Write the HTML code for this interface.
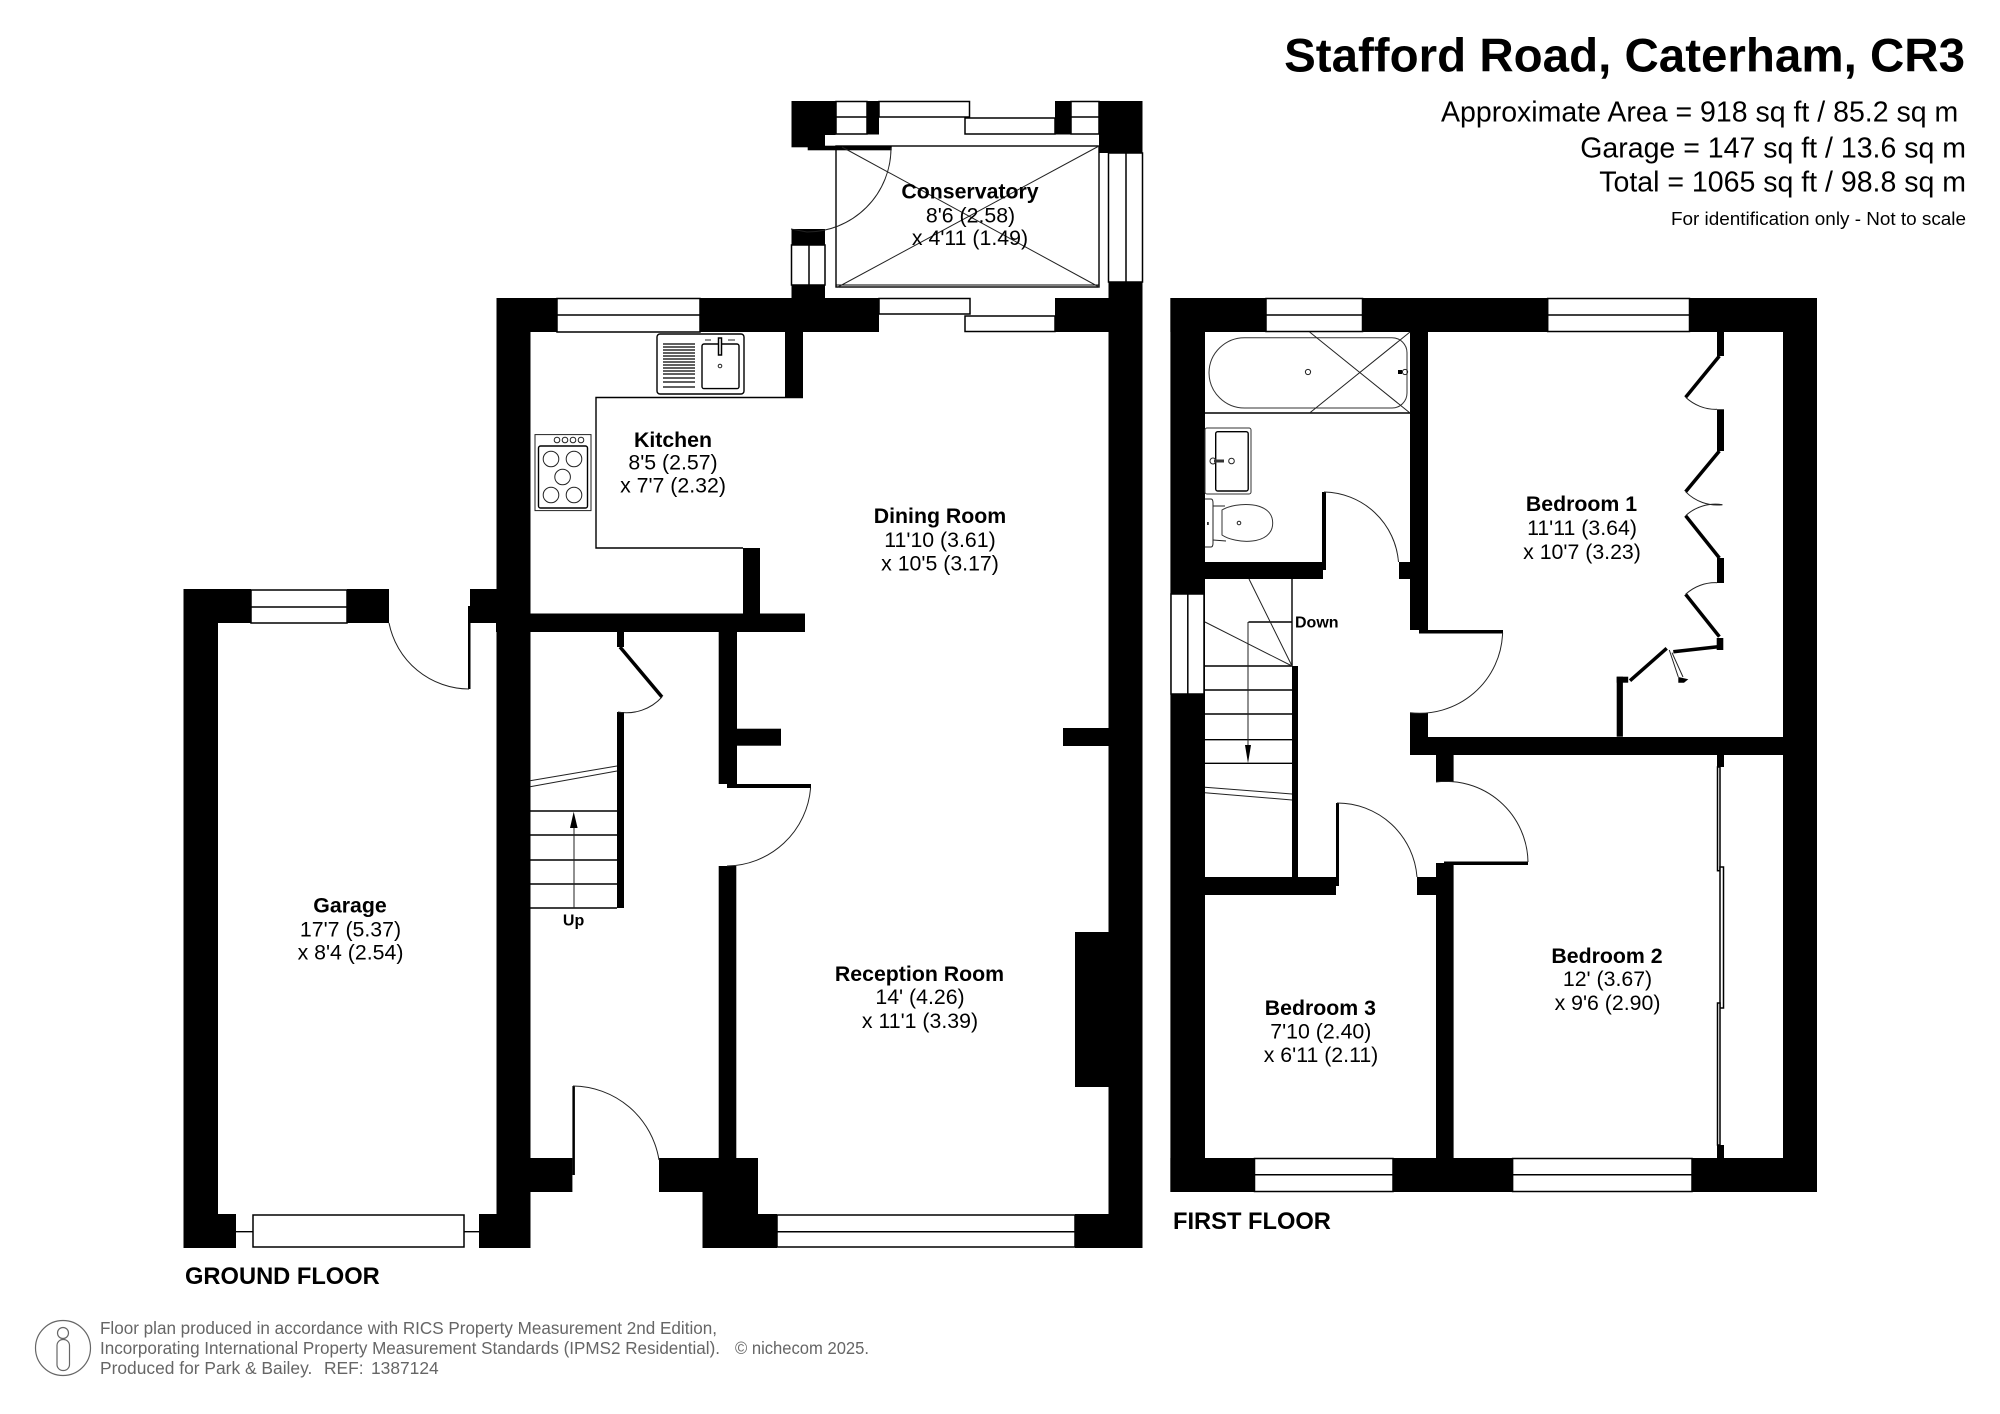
<!DOCTYPE html>
<html><head><meta charset="utf-8"><title>Stafford Road, Caterham, CR3</title>
<style>
html,body{margin:0;padding:0;background:#fff}
svg{display:block}
text{font-family:"Liberation Sans",Arial,sans-serif;fill:#000}
.r{font-size:21.3px;text-anchor:middle}
.b{font-weight:bold}
.w{fill:#fff;stroke:#000;stroke-width:1.5}
.l{fill:none;stroke:#000;stroke-width:1.4}
.t{fill:none;stroke:#222;stroke-width:1}
.f{font-size:17.4px;fill:#666}
</style></head><body>
<svg width="2000" height="1414" viewBox="0 0 2000 1414" xmlns="http://www.w3.org/2000/svg">
<rect width="2000" height="1414" fill="#fff"/>

<!-- GROUND FLOOR walls -->
<g fill="#000">
<!-- conservatory -->
<rect x="791.5" y="101" width="44" height="34"/>
<rect x="791.5" y="134" width="33.5" height="13.3"/>
<rect x="807.7" y="145.7" width="84" height="4.6"/>
<rect x="867" y="101" width="12" height="33.5"/>
<rect x="1055" y="101" width="16" height="33.5"/>
<rect x="1099" y="101" width="43.5" height="52"/>
<rect x="791.5" y="229" width="33.5" height="16"/>
<rect x="791.5" y="285" width="33.5" height="13"/>
<!-- main top -->
<rect x="496.5" y="298" width="60.5" height="34"/>
<rect x="700" y="298" width="179" height="34"/>
<rect x="1055" y="298" width="87.5" height="34"/>
<!-- right wall -->
<rect x="1108.5" y="282" width="34" height="966"/>
<rect x="1075" y="932" width="34" height="155"/>
<rect x="1063" y="728" width="46" height="18"/>
<!-- left wall -->
<rect x="496.5" y="298" width="34" height="950"/>
<rect x="785" y="332" width="18" height="66"/>
<rect x="743" y="548" width="17" height="66"/>
<rect x="496" y="613.5" width="309" height="18.5"/>
<rect x="470" y="589" width="27" height="34"/>
<rect x="718.7" y="630" width="18.3" height="154"/>
<rect x="737" y="728.7" width="44" height="17"/>
<rect x="727" y="784" width="84" height="4"/>
<rect x="718.7" y="866" width="17.6" height="292"/>
<rect x="617" y="630" width="7" height="17"/>
<rect x="617" y="712" width="7" height="196"/>
<!-- hall bottom -->
<rect x="530" y="1158" width="42.4" height="34"/>
<rect x="572.4" y="1086" width="2.5" height="89"/>
<rect x="659" y="1158" width="60" height="34"/>
<rect x="702.5" y="1158" width="55.5" height="90"/>
<rect x="702.5" y="1214" width="74.5" height="34"/>
<rect x="1075" y="1214" width="67.5" height="34"/>
<!-- garage -->
<rect x="183.5" y="589" width="67.5" height="34"/>
<rect x="183.5" y="589" width="34.5" height="659"/>
<rect x="347" y="589" width="42" height="34"/>
<rect x="183.5" y="1214" width="52.5" height="34"/>
<rect x="479" y="1214" width="51" height="34"/>
<rect x="468" y="606" width="2.5" height="83"/>

<!-- FIRST FLOOR walls -->
<rect x="1170.4" y="298" width="646.6" height="34"/>
<rect x="1170.4" y="298" width="34.6" height="894"/>
<rect x="1783" y="298" width="34" height="894"/>
<rect x="1170.4" y="1158" width="646.6" height="34"/>
<rect x="1410" y="332" width="18" height="298"/>
<rect x="1419" y="630" width="84" height="3.5"/>
<rect x="1410" y="713" width="18" height="42"/>
<rect x="1410" y="737" width="407" height="18"/>
<rect x="1205" y="562" width="118" height="17"/>
<rect x="1322" y="492" width="4" height="78"/>
<rect x="1399" y="562" width="12" height="17"/>
<rect x="1292" y="666" width="6" height="211"/>
<rect x="1205" y="877" width="131" height="18"/>
<rect x="1336" y="803" width="3" height="83"/>
<rect x="1417" y="877" width="19" height="18"/>
<rect x="1436" y="755" width="17.6" height="27"/>
<rect x="1436" y="863" width="17.6" height="295"/>
<rect x="1444" y="861.5" width="84" height="3.5"/>
<!-- wardrobes -->
<rect x="1717" y="332" width="7" height="24"/>
<rect x="1717" y="409.3" width="7" height="41.7"/>
<rect x="1717" y="558" width="7" height="25"/>
<rect x="1716.7" y="638" width="6.6" height="12"/>
<polygon points="1678.3,677 1688.3,679.3 1684,682.7 1678.3,682.7"/>
<rect x="1616.7" y="676.7" width="11.5" height="6"/>
<rect x="1616.7" y="676.7" width="6.2" height="60"/>
<rect x="1717" y="755" width="7" height="12"/>
<rect x="1717" y="1145" width="7" height="13"/>
</g>

<!-- windows -->
<g class="w">
<rect x="836" y="101.5" width="31" height="32.5"/><line x1="836" y1="117" x2="867" y2="117"/>
<rect x="879" y="101.5" width="90.5" height="15.5"/>
<rect x="965" y="118" width="90" height="16"/>
<rect x="1071" y="101.5" width="28" height="32.5"/><line x1="1071" y1="117" x2="1099" y2="117"/>
<rect x="1108.5" y="153" width="34" height="129"/><line x1="1126" y1="153" x2="1126" y2="282"/>
<rect x="791.5" y="245" width="33.5" height="40"/><line x1="809" y1="245" x2="809" y2="285"/>
<rect x="557" y="298.5" width="143" height="33.5"/><line x1="557" y1="315" x2="700" y2="315"/>
<rect x="879" y="298.5" width="91" height="15.5"/>
<rect x="965" y="316" width="90" height="15.5"/>
<rect x="251" y="590" width="96" height="33"/><line x1="251" y1="607" x2="347" y2="607"/>
<rect x="253" y="1215" width="211" height="32"/>
<rect x="777" y="1215" width="298" height="32"/><line x1="777" y1="1231.7" x2="1075" y2="1231.7"/>
<rect x="1266" y="298.5" width="96.5" height="33"/><line x1="1266" y1="315" x2="1362.5" y2="315"/>
<rect x="1547.7" y="298.5" width="141.8" height="33"/><line x1="1547.7" y1="315" x2="1689.5" y2="315"/>
<rect x="1171" y="594" width="33" height="100"/><line x1="1187.8" y1="594" x2="1187.8" y2="694"/>
<rect x="1254.5" y="1158.5" width="138.5" height="33"/><line x1="1254.5" y1="1174.7" x2="1393" y2="1174.7"/>
<rect x="1512.6" y="1158.5" width="179.4" height="33"/><line x1="1512.6" y1="1174.7" x2="1692" y2="1174.7"/>
<rect x="1717.5" y="767" width="2.5" height="103.7"/>
<rect x="1720" y="867" width="3.5" height="141"/>
<rect x="1717.5" y="1003" width="2.5" height="142"/>
</g>
<line class="l" x1="236" y1="1231.7" x2="253" y2="1231.7"/>
<line class="l" x1="464" y1="1231.7" x2="479" y2="1231.7"/>

<!-- conservatory roof -->
<rect x="836" y="146" width="263" height="141" fill="none" stroke="#000" stroke-width="1.4"/>
<line x1="836" y1="285" x2="1099" y2="285" stroke="#000" stroke-width="1"/>
<path class="t" d="M842 147L1099 287M1099 146L838 287"/>
<path class="t" d="M891 148A84 84 0 0 1 807 232L791 229"/>

<!-- kitchen counter -->
<path class="l" d="M803 397.5H596V548H743"/>
<!-- sink -->
<rect class="l" x="657" y="334" width="87" height="60" rx="3"/>
<rect class="l" x="702" y="344" width="37" height="44.6" rx="2"/>
<path stroke="#000" stroke-width="1.3" d="M663 344H695M663 347H695M663 350H695M663 353H695M663 356H695M663 359H695M663 362H695M663 365H695M663 368H695M663 371H695M663 374H695M663 378H695M663 382H695M663 387H695"/>
<rect class="w" x="718.5" y="338" width="3" height="17"/>
<circle class="t" cx="720" cy="366" r="1.8"/>
<path class="t" d="M705 340H711M728 340H735"/>
<!-- oven -->
<rect class="t" x="535" y="434.6" width="56" height="76"/>
<rect class="l" x="538.5" y="446" width="49" height="62" rx="2"/>
<g class="t"><circle cx="557" cy="440" r="2.8"/><circle cx="565" cy="440" r="2.8"/><circle cx="573" cy="440" r="2.8"/><circle cx="581" cy="440" r="2.8"/>
<circle cx="551" cy="459" r="7.8"/><circle cx="574" cy="459" r="7.8"/><circle cx="562.6" cy="477" r="7.8"/><circle cx="551" cy="495" r="7.8"/><circle cx="574" cy="495" r="7.8"/></g>

<!-- ground doors -->
<path class="t" d="M389 623A82 82 0 0 0 469 689"/>
<path class="t" d="M810.6 788A85 85 0 0 1 727 866"/>
<path d="M620 647L662 697" stroke="#000" stroke-width="3.5" fill="none"/>
<path class="t" d="M662 697A48 48 0 0 1 618 712"/>
<path class="t" d="M573 1086A88 88 0 0 1 659 1160"/>

<!-- ground stairs -->
<path class="l" d="M530 811H617M530 835H617M530 860H617M530 884H617M530 908H617"/>
<path class="t" d="M530 780.7L617 766M530 786.7L617 771"/>
<line class="t" x1="574" y1="908" x2="574" y2="825"/>
<polygon points="573.7,811.7 570,828 577.6,828" fill="#000"/>

<!-- bathroom -->
<path class="l" d="M1205 413H1410"/>
<path d="M1245 337.7H1392A15 15 0 0 1 1407 352.7V393A15 15 0 0 1 1392 408H1245A35.5 35.5 0 0 1 1209 372.8A35.5 35.5 0 0 1 1245 337.7Z" fill="none" stroke="#333" stroke-width="1"/>
<path class="t" d="M1309.6 332L1410 413M1410 332L1309.6 413"/>
<circle class="t" cx="1308" cy="372" r="2.6"/>
<rect x="1398" y="370" width="4" height="4" fill="#000"/>
<circle class="t" cx="1405" cy="372" r="2.6"/>
<rect x="1205" y="428" width="46" height="66" rx="2" fill="none" stroke="#333" stroke-width="1"/>
<rect class="l" x="1215.7" y="431.7" width="32.5" height="59.3" rx="2"/>
<circle class="t" cx="1213" cy="461" r="3"/><circle class="t" cx="1231.5" cy="461" r="2.8"/>
<rect x="1214" y="459.5" width="10" height="3" fill="#333"/>
<path class="t" d="M1205 499H1211Q1213 499 1213 503V543Q1213 547 1211 547H1205"/>
<path d="M1222 510C1235 502 1272.7 500 1272.7 523C1272.7 546 1235 544 1222 535Z" fill="none" stroke="#333" stroke-width="1"/>
<path class="t" d="M1213 506L1225 506M1213 540L1226 541"/>
<circle class="t" cx="1239" cy="523" r="1.8"/>
<rect x="1207" y="522" width="1.8" height="3" fill="#333"/>
<path class="t" d="M1324 492A76 76 0 0 1 1398.5 562"/>

<!-- first floor doors -->
<path class="t" d="M1502.6 633A83 83 0 0 1 1410 712.7"/>
<path class="t" d="M1337 803A80 80 0 0 1 1417 877"/>
<path class="t" d="M1436 782A82 82 0 0 1 1528 862"/>

<!-- wardrobe bedroom 1 -->
<g fill="none" stroke="#000" stroke-width="3.5">
<path d="M1719.4 356L1685.6 397.3"/>
<path d="M1719.4 451L1685.6 491.7"/>
<path d="M1685.6 515.7L1719.4 558"/>
<path d="M1685.6 594.3L1719.4 636.7"/>
<path d="M1718 646.7L1673.3 651.7"/>
<path d="M1666.7 648.3L1630 680.7"/>
</g>
<g class="t">
<path d="M1685.6 397.3A44 44 0 0 0 1717 409.3"/>
<path d="M1685.6 491.7A44 44 0 0 0 1722.4 504.7"/>
<path d="M1685.6 515.7A44 44 0 0 1 1722.4 504.7"/>
<path d="M1717 582.7A44 44 0 0 0 1685.6 594.3"/>
<path d="M1669.3 650L1678.3 677M1672 652.7L1683 677"/>
</g>

<!-- first stairs -->
<path class="l" d="M1205 666H1292M1205 690H1292M1205 714H1292M1205 739.7H1292M1205 763.3H1292"/>
<path class="l" d="M1292 579V666M1248.5 622H1292"/>
<path class="t" d="M1249 579L1292 666M1205 622L1292 666M1205 787.3L1292 794M1205 792.7L1292 800"/>
<line class="t" x1="1248" y1="622" x2="1248" y2="750"/>
<polygon points="1248,763.3 1245,745 1251,745" fill="#000"/>

<!-- labels -->
<text x="1965" y="71.7" text-anchor="end" font-size="47.5" font-weight="bold">Stafford Road, Caterham, CR3</text>
<text x="1441" y="121.7" font-size="28.5">Approximate Area = 918 sq ft / 85.2 sq m</text>
<text x="1966" y="157.7" text-anchor="end" font-size="28.5">Garage = 147 sq ft / 13.6 sq m</text>
<text x="1966" y="191.7" text-anchor="end" font-size="28.5">Total = 1065 sq ft / 98.8 sq m</text>
<text x="1966" y="225" text-anchor="end" font-size="18.9">For identification only - Not to scale</text>

<g class="r">
<text x="970" y="198.5" class="r b">Conservatory</text><text x="970.5" y="222.5" class="r">8'6 (2.58)</text><text x="970" y="245" class="r">x 4'11 (1.49)</text>
<text x="673" y="447" class="r b">Kitchen</text><text x="673" y="469.5" class="r">8'5 (2.57)</text><text x="673" y="492.5" class="r">x 7'7 (2.32)</text>
<text x="940" y="523" class="r b">Dining Room</text><text x="940" y="547" class="r">11'10 (3.61)</text><text x="940" y="570.5" class="r">x 10'5 (3.17)</text>
<text x="919.5" y="981" class="r b">Reception Room</text><text x="920" y="1004" class="r">14' (4.26)</text><text x="920" y="1028" class="r">x 11'1 (3.39)</text>
<text x="350" y="912.5" class="r b">Garage</text><text x="350.5" y="936.5" class="r">17'7 (5.37)</text><text x="350.5" y="959.5" class="r">x 8'4 (2.54)</text>
<text x="1581.5" y="511" class="r b">Bedroom 1</text><text x="1582" y="535" class="r">11'11 (3.64)</text><text x="1582" y="559" class="r">x 10'7 (3.23)</text>
<text x="1607" y="963" class="r b">Bedroom 2</text><text x="1607.5" y="986" class="r">12' (3.67)</text><text x="1607.5" y="1010" class="r">x 9'6 (2.90)</text>
<text x="1320.4" y="1015" class="r b">Bedroom 3</text><text x="1320.8" y="1038.5" class="r">7'10 (2.40)</text><text x="1321" y="1062" class="r">x 6'11 (2.11)</text>
</g>
<text x="573.6" y="925.5" font-size="16" font-weight="bold" text-anchor="middle">Up</text>
<text x="1295" y="627.5" font-size="16" font-weight="bold">Down</text>
<text x="185" y="1284" font-size="23.7" font-weight="bold">GROUND FLOOR</text>
<text x="1173" y="1229" font-size="23.7" font-weight="bold">FIRST FLOOR</text>

<!-- footer -->
<circle cx="63" cy="1348" r="27.5" fill="none" stroke="#666" stroke-width="1.2"/>
<circle cx="63" cy="1333" r="5.5" fill="none" stroke="#666" stroke-width="1.2"/>
<rect x="57" y="1339.5" width="12.5" height="31" rx="6" fill="none" stroke="#666" stroke-width="1.2"/>
<text x="100" y="1334" class="f" textLength="617" lengthAdjust="spacingAndGlyphs">Floor plan produced in accordance with RICS Property Measurement 2nd Edition,</text>
<text x="100" y="1354" class="f" textLength="620" lengthAdjust="spacingAndGlyphs">Incorporating International Property Measurement Standards (IPMS2 Residential).</text>
<text x="735" y="1354" class="f" textLength="134" lengthAdjust="spacingAndGlyphs">© nichecom 2025.</text>
<text x="100" y="1374" class="f">Produced for Park &amp; Bailey.</text>
<text x="324" y="1374" class="f">REF:</text>
<text x="371" y="1374" class="f">1387124</text>
</svg>
</body></html>
